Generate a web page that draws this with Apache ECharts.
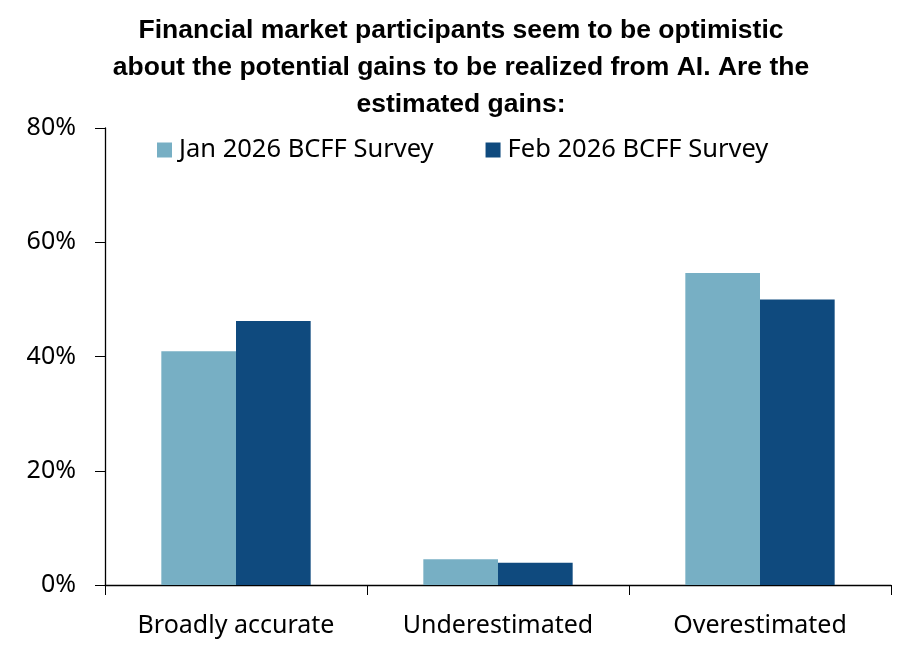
<!DOCTYPE html>
<html><head><meta charset="utf-8">
<script src="https://cdn.jsdelivr.net/npm/echarts@6/dist/echarts.min.js"></script>
<style>html,body{margin:0;padding:0;background:#fff}#c{width:909px;height:660px}</style>
</head><body><div id="c"></div>
<script>
const categories = ['Broadly accurate', 'Underestimated', 'Overestimated'];
const seriesNames = ['Jan 2026 BCFF Survey', 'Feb 2026 BCFF Survey'];
const janValues = [40.9, 4.5, 54.6];
const febValues = [46.2, 3.9, 50.0];
const yTicks = [0, 20, 40, 60, 80];

const chart = echarts.init(document.getElementById('c'));
const font = 'Noto Sans';
chart.setOption({
  backgroundColor: '#fff',
  animation: false,
  title: {
    text: 'Financial market participants seem to be optimistic\nabout the potential gains to be realized from AI. Are the\nestimated gains:',
    left: 456, top: 7, textAlign: 'center',
    textStyle: { fontFamily: 'Liberation Sans Narrow, Arial Narrow, Liberation Sans, sans-serif', fontWeight: 'bold', fontSize: 26.5, lineHeight: 37, color: '#000' }
  },
  legend: {
    data: seriesNames,
    left: 152, top: 132,
    itemWidth: 15, itemHeight: 15, itemGap: 52,
    icon: 'rect',
    textStyle: { fontFamily: font, fontSize: 25.5, color: '#000', padding: [0, 0, 0, 2] }
  },
  grid: { left: 105, right: 18, top: 128, bottom: 75, containLabel: false },
  xAxis: {
    type: 'category', data: categories,
    axisLine: { lineStyle: { color: '#000', width: 1.3 } },
    axisTick: { show: true, length: 10, lineStyle: { color: '#000' }, alignWithLabel: false },
    axisLabel: { fontFamily: font, fontSize: 25, color: '#000', margin: 28 }
  },
  yAxis: {
    type: 'value', min: 0, max: 80, interval: 20,
    axisLine: { show: true, lineStyle: { color: '#000', width: 1.3 } },
    axisTick: { show: true, length: 10, lineStyle: { color: '#000' } },
    splitLine: { show: false },
    axisLabel: { fontFamily: font, fontSize: 25, color: '#000', margin: 29, formatter: v => yTicks.includes(v) ? v + '%' : '' }
  },
  series: [
    { name: seriesNames[0], type: 'bar', data: janValues, barGap: '0%', barCategoryGap: '43%', itemStyle: { color: '#77afc4' } },
    { name: seriesNames[1], type: 'bar', data: febValues, barGap: '0%', barCategoryGap: '43%', itemStyle: { color: '#0f4a7e' } }
  ]
});
</script></body></html>
